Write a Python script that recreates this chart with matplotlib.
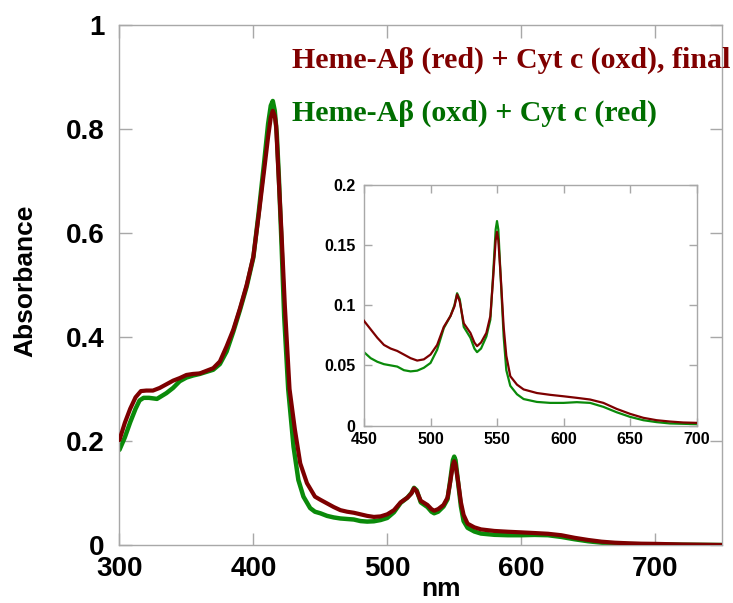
import matplotlib
matplotlib.use("Agg")
import matplotlib.pyplot as plt

# ---------------- data ----------------
wl_red = [300, 304, 308, 312, 316, 320, 325, 330, 335, 340, 345, 350, 355, 360,
          365, 370, 375, 380, 385, 390, 395, 400, 404, 408, 411, 413, 414.5, 416,
          417, 418.7, 421, 423.5, 427, 431, 435, 440, 446, 450, 455, 460, 465,
          470, 475, 480, 485, 490, 495, 500, 505, 510, 515, 518, 520, 522, 525,
          530, 533, 535, 538, 542, 545, 547, 549, 550, 551, 553, 555, 557, 560,
          565, 570, 580, 590, 600, 610, 620, 630, 640, 650, 660, 670, 680, 690,
          700, 720, 750]
abs_red = [0.202, 0.235, 0.262, 0.284, 0.296, 0.297, 0.297, 0.302, 0.309, 0.316,
           0.321, 0.327, 0.329, 0.330, 0.335, 0.340, 0.353, 0.382, 0.414, 0.455,
           0.500, 0.555, 0.635, 0.720, 0.785, 0.822, 0.835, 0.825, 0.806, 0.716,
           0.600, 0.460, 0.300, 0.222, 0.157, 0.119, 0.093, 0.087, 0.080, 0.073,
           0.067, 0.064, 0.062, 0.059, 0.056, 0.054, 0.055, 0.059, 0.067, 0.082,
           0.091, 0.099, 0.109, 0.103, 0.085, 0.077, 0.069, 0.066, 0.069, 0.077,
           0.091, 0.121, 0.154, 0.161, 0.154, 0.120, 0.082, 0.058, 0.041, 0.034,
           0.030, 0.027, 0.0255, 0.0243, 0.023, 0.0216, 0.0188, 0.0138, 0.0097,
           0.0064, 0.0044, 0.0033, 0.0025, 0.0022, 0.001, 0.0]

wl_green = [300, 304, 308, 312, 315, 318, 322, 328, 335, 340, 345, 350, 355, 360,
            365, 370, 375, 380, 385, 390, 395, 400, 404, 408, 411, 413, 414.5,
            416, 417.5, 419, 421, 423, 426, 430, 433.6, 437.4, 442.4, 446, 450,
            455, 460, 465, 470, 475, 480, 485, 490, 495, 500, 505, 510, 515, 518,
            520, 522, 525, 530, 533, 535, 538, 542, 545, 547, 549, 550, 551, 553,
            555, 557, 560, 565, 570, 580, 590, 600, 610, 620, 630, 640, 650, 660,
            670, 680, 690, 700, 720, 750]
abs_green = [0.183, 0.207, 0.236, 0.262, 0.278, 0.283, 0.283, 0.281, 0.292, 0.302,
             0.315, 0.322, 0.326, 0.329, 0.333, 0.337, 0.348, 0.372, 0.410, 0.452,
             0.497, 0.553, 0.640, 0.735, 0.810, 0.845, 0.854, 0.835, 0.790, 0.710,
             0.580, 0.440, 0.300, 0.189, 0.125, 0.093, 0.071, 0.064, 0.061, 0.056,
             0.053, 0.051, 0.050, 0.049, 0.046, 0.045, 0.0456, 0.048, 0.052, 0.063,
             0.081, 0.091, 0.100, 0.110, 0.105, 0.082, 0.073, 0.064, 0.061, 0.064,
             0.074, 0.088, 0.124, 0.163, 0.170, 0.163, 0.118, 0.074, 0.046, 0.033,
             0.026, 0.022, 0.0196, 0.0188, 0.0188, 0.0194, 0.0188, 0.0155, 0.011,
             0.0072, 0.0044, 0.0028, 0.0017, 0.0014, 0.0011, 0.0005, 0.0]

label_red = "Heme-A\u03b2 (red) + Cyt c (oxd), final"
label_green = "Heme-A\u03b2 (oxd) + Cyt c (red)"

main_xticks = [300, 400, 500, 600, 700]
main_yticks = [0, 0.2, 0.4, 0.6, 0.8, 1]
main_yticklabels = ["0", "0.2", "0.4", "0.6", "0.8", "1"]
inset_xticks = [450, 500, 550, 600, 650, 700]
inset_yticks = [0, 0.05, 0.1, 0.15, 0.2]
inset_yticklabels = ["0", "0.05", "0.1", "0.15", "0.2"]

RED = "#7d0000"
GREEN = "#0a8a0a"
RED_TXT = "#800000"
GREEN_TXT = "#006e00"
SPINE = "#a8a8a8"

plt.rcParams["font.family"] = ["Liberation Sans", "DejaVu Sans"]

fig = plt.figure(figsize=(7.33, 6.03), dpi=100)
fig.patch.set_facecolor("white")

# ---------------- main axes ----------------
ax = fig.add_axes([0.163, 0.0962, 0.822, 0.8623])
ax.plot(wl_green, abs_green, color=GREEN, lw=3.2, solid_capstyle="round", zorder=2)
ax.plot(wl_red, abs_red, color=RED, lw=3.0, solid_capstyle="round", zorder=3)
ax.set_xlim(300, 750)
ax.set_ylim(0, 1)
ax.set_xticks(main_xticks)
ax.set_yticks(main_yticks)
ax.set_yticklabels(main_yticklabels)
for s in ax.spines.values():
    s.set_color(SPINE)
    s.set_linewidth(1.0)
ax.tick_params(direction="in", length=9, width=1, color=SPINE,
               top=True, right=True, labelsize=20)
ax.tick_params(axis="y", pad=11)
ax.tick_params(axis="x", pad=8)
for lab in ax.get_xticklabels() + ax.get_yticklabels():
    lab.set_fontweight("bold")
ax.set_ylabel("Absorbance", fontsize=19, fontweight="bold")
ax.yaxis.set_label_coords(-0.137, 0.508)
ax.set_xlabel("nm", fontsize=19, fontweight="bold", va="bottom")
ax.xaxis.set_label_coords(0.534, -0.1085)

fig.text(292 / 733, 1 - 68 / 603, label_red, color=RED_TXT, fontsize=21.5,
         fontweight="bold", family=["Liberation Serif", "DejaVu Serif"],
         ha="left", va="baseline")
fig.text(292 / 733, 1 - 121 / 603, label_green, color=GREEN_TXT, fontsize=21.5,
         fontweight="bold", family=["Liberation Serif", "DejaVu Serif"],
         ha="left", va="baseline")

# ---------------- inset ----------------
ins = fig.add_axes([364 / 733, 1 - 425.5 / 603, (696.5 - 364) / 733, (425.5 - 185) / 603])
ins.set_facecolor("white")
ins.plot(wl_green, abs_green, color=GREEN, lw=1.6, zorder=2)
ins.plot(wl_red, abs_red, color=RED, lw=1.6, zorder=3)
ins.set_xlim(450, 700)
ins.set_ylim(0, 0.2)
ins.set_xticks(inset_xticks)
ins.set_yticks(inset_yticks)
ins.set_yticklabels(inset_yticklabels)
for s in ins.spines.values():
    s.set_color(SPINE)
    s.set_linewidth(1.0)
ins.tick_params(direction="in", length=6, width=1, color=SPINE,
                top=True, right=True, labelsize=11.5)
ins.tick_params(axis="y", pad=6)
ins.tick_params(axis="x", pad=5)
for lab in ins.get_xticklabels() + ins.get_yticklabels():
    lab.set_fontweight("bold")

fig.savefig("out.png", dpi=100, facecolor="white")
